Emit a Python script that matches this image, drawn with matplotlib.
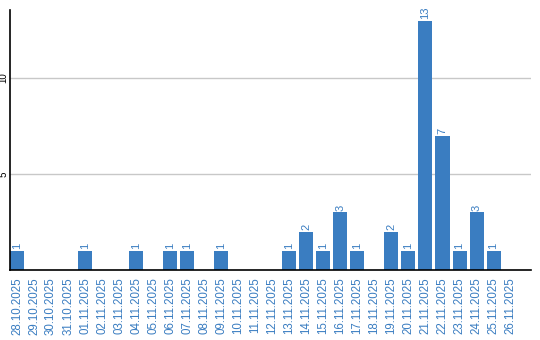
import matplotlib
matplotlib.use('Agg')
import matplotlib.pyplot as plt

dates = ['28.10.2025', '29.10.2025', '30.10.2025', '31.10.2025',
         '01.11.2025', '02.11.2025', '03.11.2025', '04.11.2025', '05.11.2025',
         '06.11.2025', '07.11.2025', '08.11.2025', '09.11.2025', '10.11.2025',
         '11.11.2025', '12.11.2025', '13.11.2025', '14.11.2025', '15.11.2025',
         '16.11.2025', '17.11.2025', '18.11.2025', '19.11.2025', '20.11.2025',
         '21.11.2025', '22.11.2025', '23.11.2025', '24.11.2025', '25.11.2025',
         '26.11.2025']
counts = [1, 0, 0, 0,
          1, 0, 0, 1, 0,
          1, 1, 0, 1, 0,
          0, 0, 1, 2, 1,
          3, 1, 0, 2, 1,
          13, 7, 1, 3, 1,
          0]

BLUE = '#3a7dc1'
plt.rcParams['font.family'] = ['Liberation Sans', 'DejaVu Sans']

fig = plt.figure(figsize=(5.4, 3.4), dpi=100)
ax = fig.add_axes([10 / 540, 1 - 270 / 340, 521 / 540, 260 / 340])

x = list(range(len(dates)))
ax.bar(x, counts, width=14 / 17, color=BLUE, zorder=2)
for xi, v in zip(x, counts):
    if v > 0:
        ax.text(xi, v + 0.1, str(v), rotation=90, ha='center', va='bottom',
                color=BLUE, fontsize=8)

ax.set_xlim(-7 / 17, 30.2)
ax.set_ylim(0, 13.55)
ax.set_yticks([5, 10])
ax.set_yticklabels(['5', '10'], rotation=90, va='center', fontsize=7)
ax.tick_params(axis='y', length=0, pad=1)
ax.set_xticks(x)
ax.set_xticklabels(dates, rotation=90, color=BLUE, fontsize=8.3)
ax.tick_params(axis='x', length=0, pad=5)
ax.grid(axis='y', color='#c8c8c8', linewidth=1, zorder=0)
ax.spines['top'].set_visible(False)
ax.spines['right'].set_visible(False)
ax.spines['left'].set_linewidth(1.2)
ax.spines['bottom'].set_linewidth(1.2)

fig.savefig('out.png', dpi=100)
